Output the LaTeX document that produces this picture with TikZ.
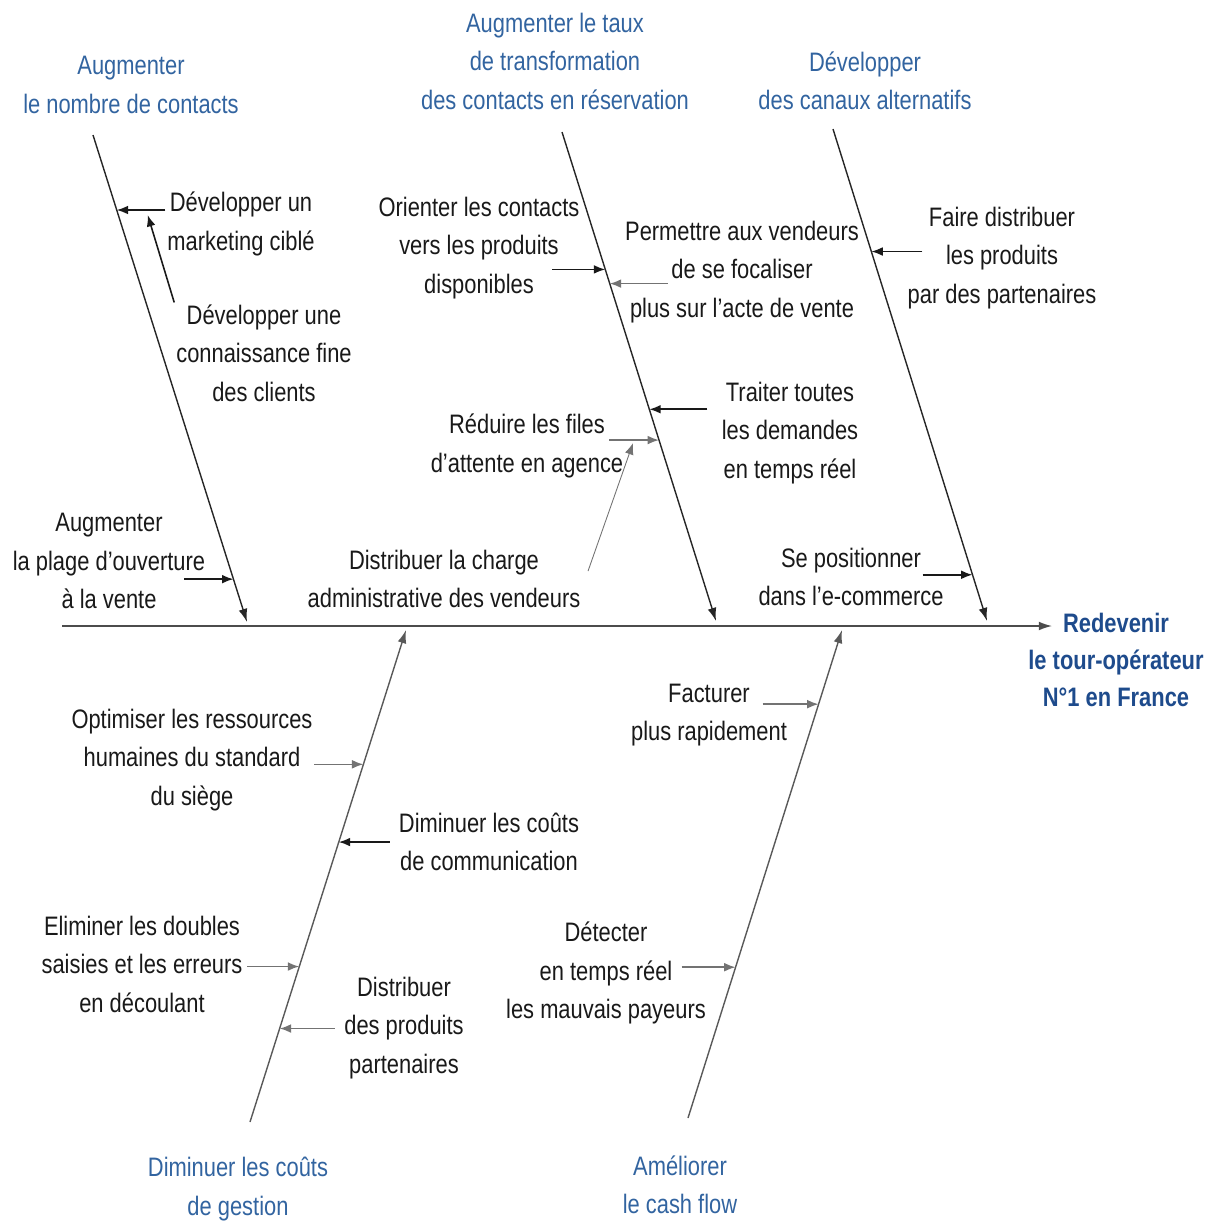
\documentclass[tikz,border=0pt]{standalone}
\usepackage{fontspec}
\setmainfont{Liberation Sans}[FakeStretch=0.82]
\usetikzlibrary{arrows.meta,calc}
\definecolor{axeblue}{RGB}{50,100,160}
\definecolor{goalblue}{RGB}{30,75,140}

\begin{document}
\begin{tikzpicture}[x=0.02cm,y=-0.02cm,
	lbl/.style={align=center,inner sep=1pt,text=black!90,font=\fontsize{15.2}{21.9}\selectfont},
	axe/.style={lbl,text=axeblue},
	goal/.style={lbl,text=goalblue,font=\fontsize{15.2}{21.2}\selectfont\bfseries},
	bone/.style={black!85,line width=0.8pt,-{Latex[length=7.5pt,width=5pt]}},
	bonebas/.style={bone,black!65},
	fleche/.style={black!90,line width=0.9pt,-{Latex[length=6.5pt,width=5pt]}},
	grise/.style={fleche,black!55}]
	
	\useasboundingbox (0,0) rectangle (1219,1225);
	
	% axes
	\node[axe] (nbcontacts) at (131,85) {Augmenter\\le nombre de contacts};
	\node[axe] (tauxtransfo) at (555,61) {Augmenter le taux\\de transformation\\des contacts en réservation};
	\node[axe] (canaux) at (865,81) {Développer\\des canaux alternatifs};
	\node[axe] (couts) at (238,1189) {Diminuer les coûts\\de gestion};
	\node[axe] (cashflow) at (680,1185) {Améliorer\\le cash flow};
	\node[goal] (redevenir) at (1116,660) {Redevenir\\le tour-opérateur\\N°1 en France};
	
	% causes
	\node[lbl] (marketing) at (241,224) {Développer un\\marketing ciblé};
	\node[lbl] (connaissance) at (264,353) {Développer une\\connaissance fine\\des clients};
	\node[lbl] (plage) at (109,561) {Augmenter\\la plage d’ouverture\\à la vente};
	\node[lbl] (orienter) at (479,248) {Orienter les contacts\\vers les produits\\disponibles};
	\node[lbl] (permettre) at (742,272) {Permettre aux vendeurs\\de se focaliser\\plus sur l’acte de vente};
	\node[lbl] (traiter) at (790,433) {Traiter toutes\\les demandes\\en temps réel};
	\node[lbl] (reduire) at (527,446) {Réduire les files\\d’attente en agence};
	\node[lbl] (charge) at (444,579) {Distribuer la charge\\administrative des vendeurs};
	\node[lbl] (faire) at (1002,258) {Faire distribuer\\les produits\\par des partenaires};
	\node[lbl] (ecommerce) at (851,577) {Se positionner\\dans l’e-commerce};
	\node[lbl] (optimiser) at (192,760) {Optimiser les ressources\\humaines du standard\\du siège};
	\node[lbl] (communication) at (489,842) {Diminuer les coûts\\de communication};
	\node[lbl] (eliminer) at (142,964) {Eliminer les doubles\\saisies et les erreurs\\en découlant};
	\node[lbl] (produits) at (404,1028) {Distribuer\\des produits\\partenaires};
	\node[lbl] (facturer) at (709,715) {Facturer\\plus rapidement};
	\node[lbl] (detecter) at (606,973) {Détecter\\en temps réel\\les mauvais payeurs};
	
	% arete centrale
	\coordinate (queue) at (62,626);
	\coordinate (tete) at (1052,626);
	\draw[bone,black!70] (queue) -- (tete);
	
	% aretes
	\coordinate (b1haut) at (93,135);  \coordinate (b1bas) at (247,622);
	\coordinate (b2haut) at (562,132); \coordinate (b2bas) at (716,621);
	\coordinate (b3haut) at (833,129); \coordinate (b3bas) at (987,621);
	\coordinate (b4bas) at (250,1122); \coordinate (b4haut) at (406,630);
	\coordinate (b5bas) at (688,1118); \coordinate (b5haut) at (842,630);
	
	\draw[bone] (b1haut) -- (b1bas) coordinate[pos=0.154] (b1a) coordinate[pos=0.912] (b1b);
	\draw[bone] (b2haut) -- (b2bas) coordinate[pos=0.281] (b2a) coordinate[pos=0.310] (b2b)
		coordinate[pos=0.567] (b2c) coordinate[pos=0.630] (b2d);
	\draw[bone] (b3haut) -- (b3bas) coordinate[pos=0.249] (b3a) coordinate[pos=0.906] (b3b);
	\draw[bonebas] (b4bas) -- (b4haut) coordinate[pos=0.727] (b4a) coordinate[pos=0.569] (b4b)
		coordinate[pos=0.316] (b4c) coordinate[pos=0.190] (b4d);
	\draw[bonebas] (b5bas) -- (b5haut) coordinate[pos=0.848] (b5a) coordinate[pos=0.309] (b5b);
	
	% fleches
	\draw[fleche] (b1a -| marketing.west) -- (b1a);
	\draw[fleche] (connaissance.north west) -- ($(b1a)+(31,5)$);
	\draw[fleche] ($(b1b)+(-49,0)$) -- (b1b);
	
	\draw[fleche] ($(b2a)+(-53,0)$) -- (b2a);
	\draw[grise] ($(b2b)+(58,0)$) -- (b2b);
	\draw[fleche] ($(b2c)+(58,0)$) -- (b2c);
	\draw[grise] ($(b2d)+(-50,0)$) -- (b2d);
	\draw[grise,line width=0.5pt] ($(b2d)+(-71,131)$) -- ($(b2d)+(-26,3)$);
	
	\draw[fleche] ($(b3a)+(51,0)$) -- (b3a);
	\draw[fleche] ($(b3b)+(-50,0)$) -- (b3b);
	
	\draw[grise] ($(b4a)+(-49,0)$) -- (b4a);
	\draw[fleche] ($(b4b)+(51,0)$) -- (b4b);
	\draw[grise] ($(b4c)+(-52,0)$) -- (b4c);
	\draw[grise] ($(b4d)+(55,0)$) -- (b4d);
	
	\draw[grise] ($(b5a)+(-56,0)$) -- (b5a);
	\draw[grise] ($(b5b)+(-54,0)$) -- (b5b);
	
\end{tikzpicture}
\end{document}
